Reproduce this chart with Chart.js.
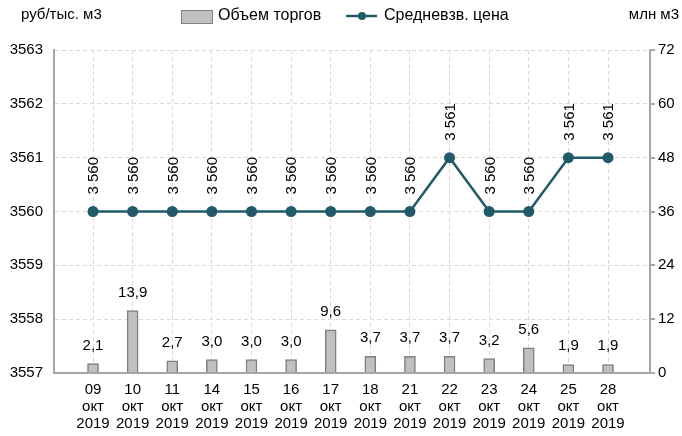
<!DOCTYPE html>
<html><head><meta charset="utf-8">
<script src="https://cdn.jsdelivr.net/npm/chart.js@4/dist/chart.umd.min.js"></script>
<style>html,body{margin:0;padding:0;background:#fff}#wrap{width:682px;height:436px}</style>
</head><body><div id="wrap"><canvas id="c" width="682" height="436"></canvas></div>
<script>
const days = ["09","10","11","14","15","16","17","18","21","22","23","24","25","28"];
const month = "окт";
const year = "2019";
const volume = [2.1,13.9,2.7,3.0,3.0,3.0,9.6,3.7,3.7,3.7,3.2,5.6,1.9,1.9];
const price = [3560,3560,3560,3560,3560,3560,3560,3560,3560,3561,3560,3560,3561,3561];
const volumeName = "Объем торгов";
const priceName = "Средневзв. цена";
const leftTitle = "руб/тыс. м3";
const rightTitle = "млн м3";

const FONT = "'Liberation Sans', Arial, sans-serif";
const LINE = "#215a68";
const GRID = "#d9d9d9";
const AXIS = "#a6a6a6";

const labelsPlugin = {
  id: 'labels',
  afterDatasetsDraw(chart) {
    const ctx = chart.ctx;
    ctx.save();
    ctx.fillStyle = "#000";
    ctx.font = "15px " + FONT;
    chart.getDatasetMeta(0).data.forEach((el, i) => {
      ctx.textAlign = 'center';
      ctx.textBaseline = 'alphabetic';
      ctx.fillText(volume[i].toFixed(1).replace('.', ','), el.x, el.y - 14);
    });
    chart.getDatasetMeta(1).data.forEach((el, i) => {
      const s = String(price[i]).replace(/\B(?=(\d{3})+(?!\d))/g, ' ');
      ctx.save();
      ctx.translate(el.x + 5.4, el.y - 17);
      ctx.rotate(-Math.PI / 2);
      ctx.textAlign = 'left';
      ctx.textBaseline = 'alphabetic';
      ctx.fillText(s, 0, 0);
      ctx.restore();
    });
    ctx.restore();
  },
  afterDraw(chart) {
    const ctx = chart.ctx;
    ctx.save();
    ctx.fillStyle = "#000";
    ctx.textBaseline = 'middle';
    ctx.font = "15px " + FONT;
    ctx.textAlign = 'left';
    ctx.fillText(leftTitle, 21, 15);
    ctx.textAlign = 'right';
    ctx.fillText(rightTitle, 679, 15);
    ctx.font = "16px " + FONT;
    ctx.textAlign = 'left';
    ctx.fillStyle = "#c0c0c0";
    ctx.fillRect(181.5, 10.5, 31, 13);
    ctx.strokeStyle = "#808080";
    ctx.lineWidth = 1;
    ctx.strokeRect(181.5, 10.5, 31, 13);
    ctx.fillStyle = "#000";
    ctx.fillText(volumeName, 218, 16);
    ctx.strokeStyle = LINE;
    ctx.lineWidth = 2.5;
    ctx.beginPath(); ctx.moveTo(346, 16); ctx.lineTo(377, 16); ctx.stroke();
    ctx.fillStyle = LINE;
    ctx.beginPath(); ctx.arc(362, 16, 4, 0, Math.PI * 2); ctx.fill();
    ctx.fillStyle = "#000";
    ctx.fillText(priceName, 384, 16);
    ctx.restore();
  }
};

new Chart(document.getElementById('c'), {
  data: {
    datasets: [
      {
        type: 'bar', label: volumeName, yAxisID: 'y1', order: 2,
        data: volume.map((v, i) => ({x: i, y: v})),
        backgroundColor: "#c0c0c0", borderColor: "#7f7f7f", borderWidth: 1.5,
        barThickness: 11
      },
      {
        type: 'line', label: priceName, yAxisID: 'y', order: 1,
        data: price.map((v, i) => ({x: i, y: v})),
        borderColor: LINE, backgroundColor: LINE, borderWidth: 2.5,
        pointRadius: 5.5, pointBackgroundColor: LINE, pointBorderWidth: 0,
        tension: 0
      }
    ]
  },
  options: {
    responsive: false, animation: false,
    layout: {padding: {top: 50, left: 0, right: 0, bottom: 0}},
    plugins: {legend: {display: false}, tooltip: {enabled: false}},
    scales: {
      x: {
        type: 'linear', offset: false, min: -0.985, max: 14.06,
        afterBuildTicks: s => { s.ticks = days.map((d, i) => ({value: i})); },
        afterFit: s => { s.height = 63; },
        ticks: {
          autoSkip: false, maxRotation: 0, padding: 8,
          color: "#000", font: {family: FONT, size: 15, lineHeight: 1.15},
          callback: v => [days[v], month, year]
        },
        grid: {color: GRID, drawTicks: false, offset: false},
        border: {color: AXIS, width: 2, dash: [4, 3]}
      },
      y: {
        position: 'left', min: 3557, max: 3563,
        afterFit: s => { s.width = 54; },
        ticks: {stepSize: 1, padding: 11, color: "#000", font: {family: FONT, size: 15}, callback: v => String(v)},
        grid: {color: GRID, drawTicks: false},
        border: {color: AXIS, width: 2, dash: [4, 3]}
      },
      y1: {
        position: 'right', min: 0, max: 72,
        afterFit: s => { s.width = 32; },
        ticks: {stepSize: 12, padding: 3, color: "#000", font: {family: FONT, size: 15}},
        grid: {drawOnChartArea: false, drawTicks: true, tickLength: 5, color: AXIS, lineWidth: 2},
        border: {color: AXIS, width: 2}
      }
    }
  },
  plugins: [labelsPlugin]
});
</script></body></html>
